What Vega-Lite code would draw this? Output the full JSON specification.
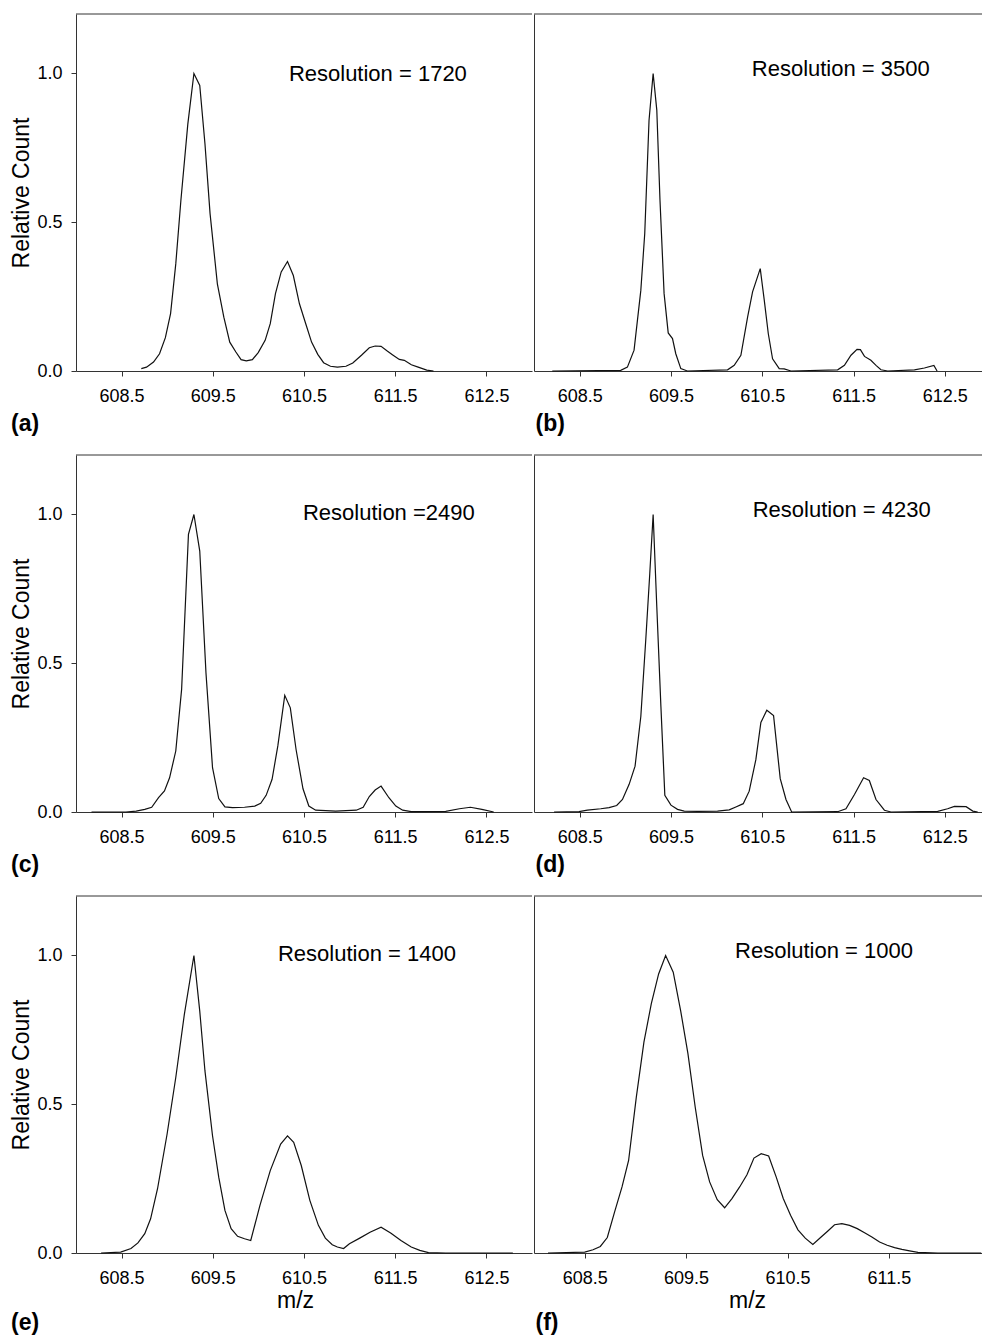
{
  "$schema": "https://vega.github.io/schema/vega-lite/v6.json",
  "padding": {"left": 10, "top": 13, "right": 0, "bottom": 0},
  "background": "white",
  "config": {
    "view": {"stroke": null},
    "font": "Liberation Sans",
    "axis": {"grid": false, "domainColor": "#333", "tickColor": "#333", "labelColor": "#000", "titleColor": "#000", "labelFont": "Liberation Sans", "titleFont": "Liberation Sans", "labelFontSize": 18, "titleFontSize": 23, "titleFontWeight": "normal", "tickSize": 5, "labelFlush": false, "labelOverlap": false},
    "axisX": {"labelPadding": 11},
    "axisY": {"labelPadding": 9, "titlePadding": 3},
    "title": {"fontSize": 23, "fontWeight": "bold", "font": "Liberation Sans", "orient": "bottom", "anchor": "start", "frame": "bounds", "offset": 8, "color": "#000"},
    "line": {"color": "#111", "strokeWidth": 1.2, "clip": true},
    "rule": {"color": "#333", "strokeWidth": 1},
    "text": {"fontSize": 22, "font": "Liberation Sans", "color": "#000", "align": "center", "baseline": "middle"}
  },
  "datasets": {
    "a": [{"mz":608.716,"count":0.008},{"mz":608.773,"count":0.013},{"mz":608.85,"count":0.03},{"mz":608.916,"count":0.058},{"mz":608.98,"count":0.112},{"mz":609.037,"count":0.193},{"mz":609.094,"count":0.36},{"mz":609.15,"count":0.573},{"mz":609.226,"count":0.83},{"mz":609.293,"count":1.0},{"mz":609.357,"count":0.96},{"mz":609.414,"count":0.764},{"mz":609.47,"count":0.529},{"mz":609.55,"count":0.293},{"mz":609.621,"count":0.181},{"mz":609.686,"count":0.097},{"mz":609.753,"count":0.064},{"mz":609.81,"count":0.038},{"mz":609.867,"count":0.034},{"mz":609.934,"count":0.038},{"mz":609.998,"count":0.062},{"mz":610.074,"count":0.103},{"mz":610.13,"count":0.159},{"mz":610.187,"count":0.26},{"mz":610.25,"count":0.333},{"mz":610.319,"count":0.368},{"mz":610.383,"count":0.321},{"mz":610.45,"count":0.226},{"mz":610.519,"count":0.159},{"mz":610.583,"count":0.097},{"mz":610.651,"count":0.056},{"mz":610.715,"count":0.028},{"mz":610.79,"count":0.016},{"mz":610.866,"count":0.013},{"mz":610.96,"count":0.016},{"mz":611.035,"count":0.027},{"mz":611.13,"count":0.053},{"mz":611.216,"count":0.078},{"mz":611.28,"count":0.084},{"mz":611.345,"count":0.083},{"mz":611.413,"count":0.067},{"mz":611.469,"count":0.055},{"mz":611.545,"count":0.039},{"mz":611.6,"count":0.036},{"mz":611.677,"count":0.021},{"mz":611.752,"count":0.013},{"mz":611.846,"count":0.003},{"mz":611.92,"count":0.0}],
    "b": [{"mz":608.2,"count":0},{"mz":608.95,"count":0.002},{"mz":609.023,"count":0.013},{"mz":609.096,"count":0.07},{"mz":609.17,"count":0.271},{"mz":609.213,"count":0.462},{"mz":609.26,"count":0.843},{"mz":609.305,"count":1.0},{"mz":609.345,"count":0.877},{"mz":609.38,"count":0.574},{"mz":609.425,"count":0.26},{"mz":609.47,"count":0.128},{"mz":609.517,"count":0.109},{"mz":609.553,"count":0.058},{"mz":609.608,"count":0.008},{"mz":609.68,"count":0},{"mz":610.12,"count":0.004},{"mz":610.193,"count":0.019},{"mz":610.266,"count":0.053},{"mz":610.34,"count":0.182},{"mz":610.394,"count":0.266},{"mz":610.478,"count":0.344},{"mz":610.522,"count":0.238},{"mz":610.566,"count":0.126},{"mz":610.613,"count":0.041},{"mz":610.686,"count":0.008},{"mz":610.74,"count":0.007},{"mz":610.814,"count":0},{"mz":611.326,"count":0.004},{"mz":611.4,"count":0.019},{"mz":611.472,"count":0.053},{"mz":611.538,"count":0.073},{"mz":611.575,"count":0.072},{"mz":611.62,"count":0.049},{"mz":611.69,"count":0.036},{"mz":611.746,"count":0.019},{"mz":611.8,"count":0.004},{"mz":611.874,"count":0},{"mz":612.167,"count":0.004},{"mz":612.276,"count":0.01},{"mz":612.38,"count":0.019},{"mz":612.415,"count":0}],
    "c": [{"mz":608.17,"count":0},{"mz":608.547,"count":0},{"mz":608.66,"count":0.003},{"mz":608.754,"count":0.009},{"mz":608.83,"count":0.016},{"mz":608.905,"count":0.048},{"mz":608.97,"count":0.071},{"mz":609.026,"count":0.115},{"mz":609.094,"count":0.205},{"mz":609.158,"count":0.412},{"mz":609.233,"count":0.933},{"mz":609.293,"count":1.0},{"mz":609.357,"count":0.877},{"mz":609.425,"count":0.468},{"mz":609.497,"count":0.149},{"mz":609.565,"count":0.045},{"mz":609.633,"count":0.017},{"mz":609.716,"count":0.015},{"mz":609.848,"count":0.016},{"mz":609.96,"count":0.02},{"mz":610.025,"count":0.029},{"mz":610.085,"count":0.056},{"mz":610.15,"count":0.11},{"mz":610.213,"count":0.222},{"mz":610.289,"count":0.392},{"mz":610.35,"count":0.35},{"mz":610.413,"count":0.21},{"mz":610.489,"count":0.078},{"mz":610.553,"count":0.02},{"mz":610.628,"count":0.006},{"mz":610.847,"count":0.003},{"mz":611.073,"count":0.006},{"mz":611.149,"count":0.016},{"mz":611.216,"count":0.052},{"mz":611.28,"count":0.074},{"mz":611.345,"count":0.087},{"mz":611.431,"count":0.048},{"mz":611.507,"count":0.02},{"mz":611.582,"count":0.006},{"mz":611.676,"count":0.001},{"mz":612.054,"count":0.002},{"mz":612.204,"count":0.011},{"mz":612.325,"count":0.016},{"mz":612.45,"count":0.009},{"mz":612.58,"count":0}],
    "d": [{"mz":608.22,"count":0},{"mz":608.493,"count":0.001},{"mz":608.585,"count":0.006},{"mz":608.731,"count":0.011},{"mz":608.822,"count":0.015},{"mz":608.906,"count":0.022},{"mz":608.969,"count":0.042},{"mz":609.042,"count":0.093},{"mz":609.107,"count":0.154},{"mz":609.17,"count":0.321},{"mz":609.224,"count":0.578},{"mz":609.268,"count":0.801},{"mz":609.305,"count":1.0},{"mz":609.345,"count":0.69},{"mz":609.39,"count":0.355},{"mz":609.433,"count":0.056},{"mz":609.5,"count":0.023},{"mz":609.572,"count":0.009},{"mz":609.645,"count":0.003},{"mz":609.79,"count":0.002},{"mz":610.01,"count":0.003},{"mz":610.138,"count":0.007},{"mz":610.211,"count":0.017},{"mz":610.292,"count":0.028},{"mz":610.357,"count":0.07},{"mz":610.43,"count":0.176},{"mz":610.485,"count":0.301},{"mz":610.55,"count":0.342},{"mz":610.624,"count":0.324},{"mz":610.697,"count":0.112},{"mz":610.76,"count":0.042},{"mz":610.822,"count":0},{"mz":611.326,"count":0.001},{"mz":611.417,"count":0.011},{"mz":611.51,"count":0.059},{"mz":611.61,"count":0.115},{"mz":611.673,"count":0.106},{"mz":611.746,"count":0.042},{"mz":611.838,"count":0.006},{"mz":611.91,"count":0},{"mz":612.422,"count":0.002},{"mz":612.53,"count":0.011},{"mz":612.605,"count":0.019},{"mz":612.733,"count":0.018},{"mz":612.806,"count":0.003},{"mz":612.86,"count":0}],
    "e": [{"mz":608.275,"count":0},{"mz":608.49,"count":0.003},{"mz":608.603,"count":0.015},{"mz":608.679,"count":0.034},{"mz":608.754,"count":0.065},{"mz":608.818,"count":0.115},{"mz":608.894,"count":0.216},{"mz":608.999,"count":0.4},{"mz":609.094,"count":0.59},{"mz":609.188,"count":0.802},{"mz":609.293,"count":1.0},{"mz":609.357,"count":0.813},{"mz":609.414,"count":0.612},{"mz":609.497,"count":0.394},{"mz":609.565,"count":0.255},{"mz":609.633,"count":0.143},{"mz":609.701,"count":0.082},{"mz":609.772,"count":0.056},{"mz":609.848,"count":0.048},{"mz":609.916,"count":0.042},{"mz":610.017,"count":0.16},{"mz":610.13,"count":0.277},{"mz":610.244,"count":0.366},{"mz":610.319,"count":0.394},{"mz":610.387,"count":0.372},{"mz":610.47,"count":0.294},{"mz":610.564,"count":0.177},{"mz":610.658,"count":0.093},{"mz":610.734,"count":0.05},{"mz":610.81,"count":0.028},{"mz":610.866,"count":0.02},{"mz":610.934,"count":0.015},{"mz":610.998,"count":0.031},{"mz":611.111,"count":0.05},{"mz":611.224,"count":0.07},{"mz":611.345,"count":0.087},{"mz":611.45,"count":0.067},{"mz":611.563,"count":0.042},{"mz":611.676,"count":0.02},{"mz":611.77,"count":0.009},{"mz":611.865,"count":0.001},{"mz":612.054,"count":0},{"mz":612.79,"count":0}],
    "f": [{"mz":608.138,"count":0},{"mz":608.5,"count":0.003},{"mz":608.582,"count":0.011},{"mz":608.654,"count":0.022},{"mz":608.723,"count":0.052},{"mz":608.795,"count":0.138},{"mz":608.868,"count":0.222},{"mz":608.933,"count":0.311},{"mz":609.009,"count":0.524},{"mz":609.084,"count":0.709},{"mz":609.157,"count":0.838},{"mz":609.229,"count":0.938},{"mz":609.298,"count":1.0},{"mz":609.373,"count":0.944},{"mz":609.446,"count":0.815},{"mz":609.518,"count":0.67},{"mz":609.59,"count":0.49},{"mz":609.663,"count":0.328},{"mz":609.732,"count":0.239},{"mz":609.807,"count":0.179},{"mz":609.88,"count":0.152},{"mz":609.952,"count":0.183},{"mz":610.028,"count":0.222},{"mz":610.1,"count":0.263},{"mz":610.169,"count":0.319},{"mz":610.241,"count":0.334},{"mz":610.314,"count":0.326},{"mz":610.389,"count":0.255},{"mz":610.458,"count":0.183},{"mz":610.53,"count":0.127},{"mz":610.603,"count":0.078},{"mz":610.675,"count":0.05},{"mz":610.75,"count":0.029},{"mz":610.826,"count":0.052},{"mz":610.898,"count":0.074},{"mz":610.964,"count":0.095},{"mz":611.036,"count":0.099},{"mz":611.112,"count":0.093},{"mz":611.188,"count":0.082},{"mz":611.26,"count":0.068},{"mz":611.332,"count":0.054},{"mz":611.408,"count":0.037},{"mz":611.483,"count":0.026},{"mz":611.556,"count":0.018},{"mz":611.628,"count":0.012},{"mz":611.704,"count":0.007},{"mz":611.786,"count":0.002},{"mz":611.983,"count":0},{"mz":612.41,"count":0}]
  },
  "spacing": 18,
  "vconcat": [
    {
      "spacing": 0,
      "hconcat": [
        {
          "width": 456, "height": 357,
          "title": {"text": "(a)"},
          "layer": [
            {"data": {"name": "a"}, "mark": "line",
             "encoding": {
               "x": {"field": "mz", "type": "quantitative", "scale": {"domain": [608, 613], "nice": false, "zero": false}, "axis": {"values": [608.5, 609.5, 610.5, 611.5, 612.5], "format": ".1f", "title": null}},
               "y": {"field": "count", "type": "quantitative", "scale": {"domain": [0, 1.2], "nice": false}, "axis": {"values": [0, 0.5, 1.0], "format": ".1f", "title": "Relative Count"}}}},
            {"data": {"values": [{}]}, "mark": "rule", "encoding": {"y": {"datum": 1.2}}},
            {"data": {"values": [{"label": "Resolution = 1720"}]}, "mark": "text", "encoding": {"x": {"datum": 611.31}, "y": {"datum": 1.0}, "text": {"field": "label"}}}
          ]
        },
        {
          "width": 448, "height": 357,
          "title": {"text": "(b)", "dx": 2},
          "layer": [
            {"data": {"name": "b"}, "mark": "line",
             "encoding": {
               "x": {"field": "mz", "type": "quantitative", "scale": {"domain": [608, 612.907], "nice": false, "zero": false}, "axis": {"values": [608.5, 609.5, 610.5, 611.5, 612.5], "format": ".1f", "title": null}},
               "y": {"field": "count", "type": "quantitative", "scale": {"domain": [0, 1.2], "nice": false}, "axis": {"labels": false, "ticks": false, "title": null, "domain": true, "minExtent": 0}}}},
            {"data": {"values": [{}]}, "mark": "rule", "encoding": {"y": {"datum": 1.2}}},
            {"data": {"values": [{"label": "Resolution = 3500"}]}, "mark": "text", "encoding": {"x": {"datum": 611.36}, "y": {"datum": 1.015}, "text": {"field": "label"}}}
          ]
        }
      ]
    },
    {
      "spacing": 0,
      "hconcat": [
        {
          "width": 456, "height": 357,
          "title": {"text": "(c)"},
          "layer": [
            {"data": {"name": "c"}, "mark": "line",
             "encoding": {
               "x": {"field": "mz", "type": "quantitative", "scale": {"domain": [608, 613], "nice": false, "zero": false}, "axis": {"values": [608.5, 609.5, 610.5, 611.5, 612.5], "format": ".1f", "title": null}},
               "y": {"field": "count", "type": "quantitative", "scale": {"domain": [0, 1.2], "nice": false}, "axis": {"values": [0, 0.5, 1.0], "format": ".1f", "title": "Relative Count"}}}},
            {"data": {"values": [{}]}, "mark": "rule", "encoding": {"y": {"datum": 1.2}}},
            {"data": {"values": [{"label": "Resolution =2490"}]}, "mark": "text", "encoding": {"x": {"datum": 611.43}, "y": {"datum": 1.004}, "text": {"field": "label"}}}
          ]
        },
        {
          "width": 448, "height": 357,
          "title": {"text": "(d)", "dx": 2},
          "layer": [
            {"data": {"name": "d"}, "mark": "line",
             "encoding": {
               "x": {"field": "mz", "type": "quantitative", "scale": {"domain": [608, 612.907], "nice": false, "zero": false}, "axis": {"values": [608.5, 609.5, 610.5, 611.5, 612.5], "format": ".1f", "title": null}},
               "y": {"field": "count", "type": "quantitative", "scale": {"domain": [0, 1.2], "nice": false}, "axis": {"labels": false, "ticks": false, "title": null, "domain": true, "minExtent": 0}}}},
            {"data": {"values": [{}]}, "mark": "rule", "encoding": {"y": {"datum": 1.2}}},
            {"data": {"values": [{"label": "Resolution = 4230"}]}, "mark": "text", "encoding": {"x": {"datum": 611.37}, "y": {"datum": 1.016}, "text": {"field": "label"}}}
          ]
        }
      ]
    },
    {
      "spacing": 0,
      "hconcat": [
        {
          "width": 456, "height": 357,
          "title": {"text": "(e)", "offset": 0},
          "layer": [
            {"data": {"name": "e"}, "mark": "line",
             "encoding": {
               "x": {"field": "mz", "type": "quantitative", "scale": {"domain": [608, 613], "nice": false, "zero": false}, "axis": {"values": [608.5, 609.5, 610.5, 611.5, 612.5], "format": ".1f", "title": "m/z", "titleX": 219, "titlePadding": 2}},
               "y": {"field": "count", "type": "quantitative", "scale": {"domain": [0, 1.2], "nice": false}, "axis": {"values": [0, 0.5, 1.0], "format": ".1f", "title": "Relative Count"}}}},
            {"data": {"values": [{}]}, "mark": "rule", "encoding": {"y": {"datum": 1.2}}},
            {"data": {"values": [{"label": "Resolution = 1400"}]}, "mark": "text", "encoding": {"x": {"datum": 611.19}, "y": {"datum": 1.004}, "text": {"field": "label"}}}
          ]
        },
        {
          "width": 448, "height": 357,
          "title": {"text": "(f)", "dx": 2, "offset": 0},
          "layer": [
            {"data": {"name": "f"}, "mark": "line",
             "encoding": {
               "x": {"field": "mz", "type": "quantitative", "scale": {"domain": [608, 612.418], "nice": false, "zero": false}, "axis": {"values": [608.5, 609.5, 610.5, 611.5], "format": ".1f", "title": "m/z", "titleX": 213, "titlePadding": 2}},
               "y": {"field": "count", "type": "quantitative", "scale": {"domain": [0, 1.2], "nice": false}, "axis": {"labels": false, "ticks": false, "title": null, "domain": true, "minExtent": 0}}}},
            {"data": {"values": [{}]}, "mark": "rule", "encoding": {"y": {"datum": 1.2}}},
            {"data": {"values": [{"label": "Resolution = 1000"}]}, "mark": "text", "encoding": {"x": {"datum": 610.86}, "y": {"datum": 1.014}, "text": {"field": "label"}}}
          ]
        }
      ]
    }
  ]
}
